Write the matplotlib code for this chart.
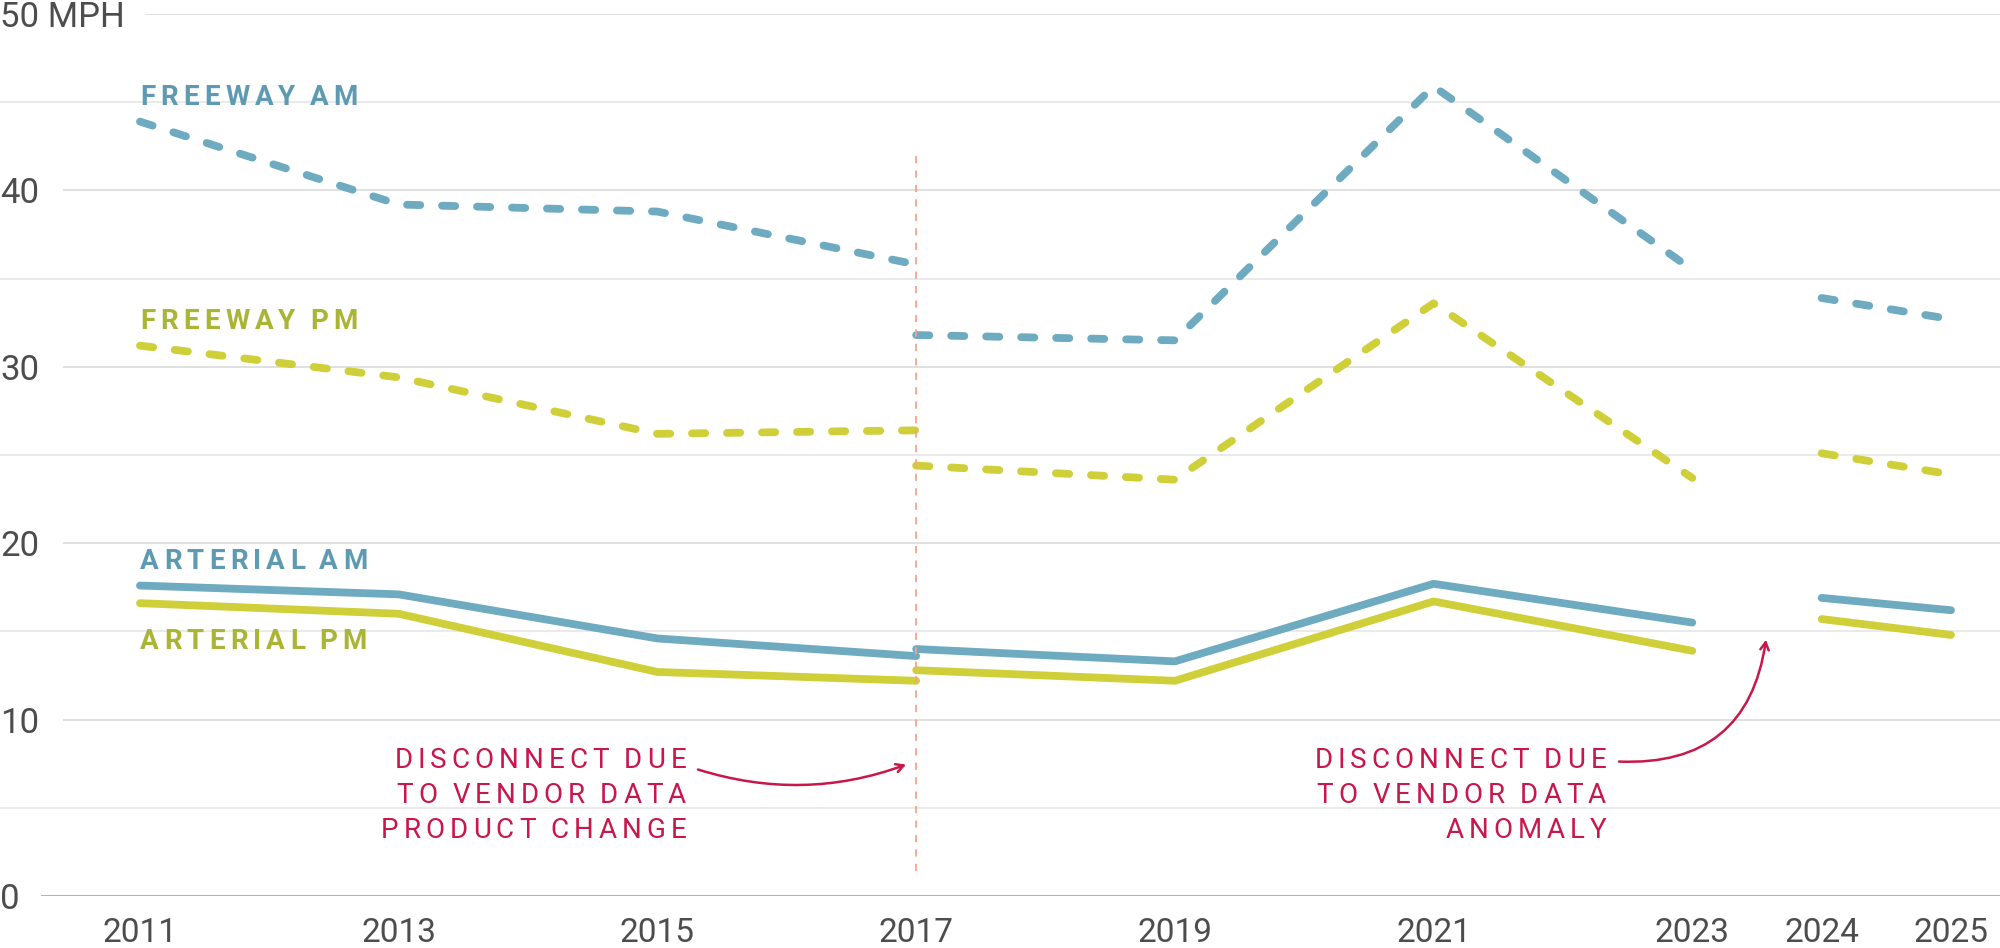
import matplotlib
matplotlib.use("Agg")
import numpy as np
from matplotlib import pyplot as plt
from matplotlib import transforms

plt.rcParams['font.family'] = ['Roboto', 'DejaVu Sans']

# data: three segments per series (vendor changes in 2017 and 2023/24)
years_old = [2011, 2013, 2015, 2017]
years_new = [2017, 2019, 2021, 2023]
years_late = [2024, 2025]

fwy_am_old = [43.9, 39.2, 38.8, 35.8]
fwy_am_new = [31.8, 31.5, 45.9, 35.5]
fwy_am_late = [33.9, 32.7]

fwy_pm_old = [31.2, 29.4, 26.2, 26.4]
fwy_pm_new = [24.4, 23.6, 33.6, 23.7]
fwy_pm_late = [25.1, 23.9]

art_am_old = [17.6, 17.1, 14.6, 13.6]
art_am_new = [14.0, 13.3, 17.7, 15.5]
art_am_late = [16.9, 16.2]

art_pm_old = [16.6, 16.0, 12.7, 12.2]
art_pm_new = [12.8, 12.2, 16.7, 13.9]
art_pm_late = [15.7, 14.8]

tick_years = [2011, 2013, 2015, 2017, 2019, 2021, 2023, 2024, 2025]
y_ticks = [0, 10, 20, 30, 40, 50]
y_labels = ["0", "10", "20", "30", "40", "50 MPH"]

blue = '#6eaac0'
yellow = '#cfcf3a'
blue_txt = '#5e9ab2'
yellow_txt = '#aab536'
red = '#c8174a'
grey_txt = '#4d4d4d'

W, H, dpi = 2000, 948, 100
fig = plt.figure(figsize=(W / dpi, H / dpi), dpi=dpi)
ax = fig.add_axes([0, 52 / H, 1, 882 / H])
ax.set_xlim(2011 - 140 / 129.36, 2025 + 49 / 129.36)
ax.set_ylim(0, 50)
for s in ax.spines.values():
    s.set_visible(False)

# gridlines
for v in range(5, 50, 10):
    ax.axhline(v, color='#e6e6e6', lw=1.2, zorder=0)
for v in [10, 20, 30, 40]:
    ax.axhline(v, xmin=64 / W, color='#e0e0e0', lw=1.4, zorder=0)
ax.axhline(50, xmin=146 / W, color='#e0e0e0', lw=1.4, zorder=0)
ax.axhline(0, xmin=42 / W, color='#b3b3b3', lw=2.2, zorder=1)

ax.set_xticks(tick_years, labels=[str(y) for y in tick_years])
ax.tick_params(axis='x', length=0, pad=15, labelsize=24, labelcolor=grey_txt)
ax.set_yticks(y_ticks, labels=y_labels, ha='left')
ax.tick_params(axis='y', length=0, pad=0, labelsize=25, labelcolor=grey_txt)

lw = 5.6
dash = (1.7, 2.8)
for xs, fa, fp, aa, ap in [(years_old, fwy_am_old, fwy_pm_old, art_am_old, art_pm_old),
                           (years_new, fwy_am_new, fwy_pm_new, art_am_new, art_pm_new),
                           (years_late, fwy_am_late, fwy_pm_late, art_am_late, art_pm_late)]:
    ax.plot(xs, fa, color=blue, lw=lw, dashes=dash, dash_capstyle='round', zorder=3)
    ax.plot(xs, fp, color=yellow, lw=lw, dashes=dash, dash_capstyle='round', zorder=3)
    ax.plot(xs, ap, color=yellow, lw=lw, solid_capstyle='round', zorder=3)
    ax.plot(xs, aa, color=blue, lw=lw, solid_capstyle='round', zorder=3)

ax.vlines(2017, 1.4, 42.3, color='#f4a58c', lw=1.3, linestyles=(0, (4, 4)), zorder=4)

renderer = fig.canvas.get_renderer()


def spaced(x, y, s, track, space_w, ha='left', **kw):
    # draw letter-spaced text char by char, track/space in pixels
    ws = []
    for ch in s:
        if ch == ' ':
            ws.append(space_w)
            continue
        t = ax.text(0, 0, ch, **kw)
        ws.append(t.get_window_extent(renderer).width)
        t.remove()
    total = sum(ws) + track * (len(s) - 1)
    off = -total if ha == 'right' else 0
    for ch, w in zip(s, ws):
        if ch != ' ':
            tr = transforms.offset_copy(ax.transData, fig=fig, x=off, y=0, units='dots')
            ax.text(x, y, ch, transform=tr, ha='left', va='baseline', **kw)
        off += w + track


lab = dict(fontsize=20, fontweight='bold')
spaced(2011, 44.84, "FREEWAY AM", 5.2, 4, color=blue_txt, **lab)
spaced(2011, 32.15, "FREEWAY PM", 5.2, 4, color=yellow_txt, **lab)
spaced(2011, 18.56, "ARTERIAL AM", 5.2, 4, color=blue_txt, **lab)
spaced(2011, 14.02, "ARTERIAL PM", 5.2, 4, color=yellow_txt, **lab)

note = dict(fontsize=20, fontweight='normal', color=red)
for i, line in enumerate(["DISCONNECT DUE", "TO VENDOR DATA", "PRODUCT CHANGE"]):
    spaced(2015.221, 7.28 - 1.983 * i, line, 5, 5, ha='right', **note)
for i, line in enumerate(["DISCONNECT DUE", "TO VENDOR DATA", "ANOMALY"]):
    spaced(2022.333, 7.28 - 1.983 * i, line, 5, 5, ha='right', **note)

ax.annotate("", xy=(2016.922, 7.45), xytext=(2015.314, 7.17),
            arrowprops=dict(arrowstyle="->,head_length=0.55,head_width=0.3", color=red, lw=1.8,
                            connectionstyle="arc3,rad=0.17", shrinkA=0, shrinkB=0))
ax.annotate("", xy=(2023.57, 14.53), xytext=(2022.434, 7.62),
            arrowprops=dict(arrowstyle="->,head_length=0.55,head_width=0.3", color=red, lw=1.8,
                            connectionstyle="arc3,rad=0.45", shrinkA=0, shrinkB=0))

fig.savefig("out.png", dpi=dpi)
